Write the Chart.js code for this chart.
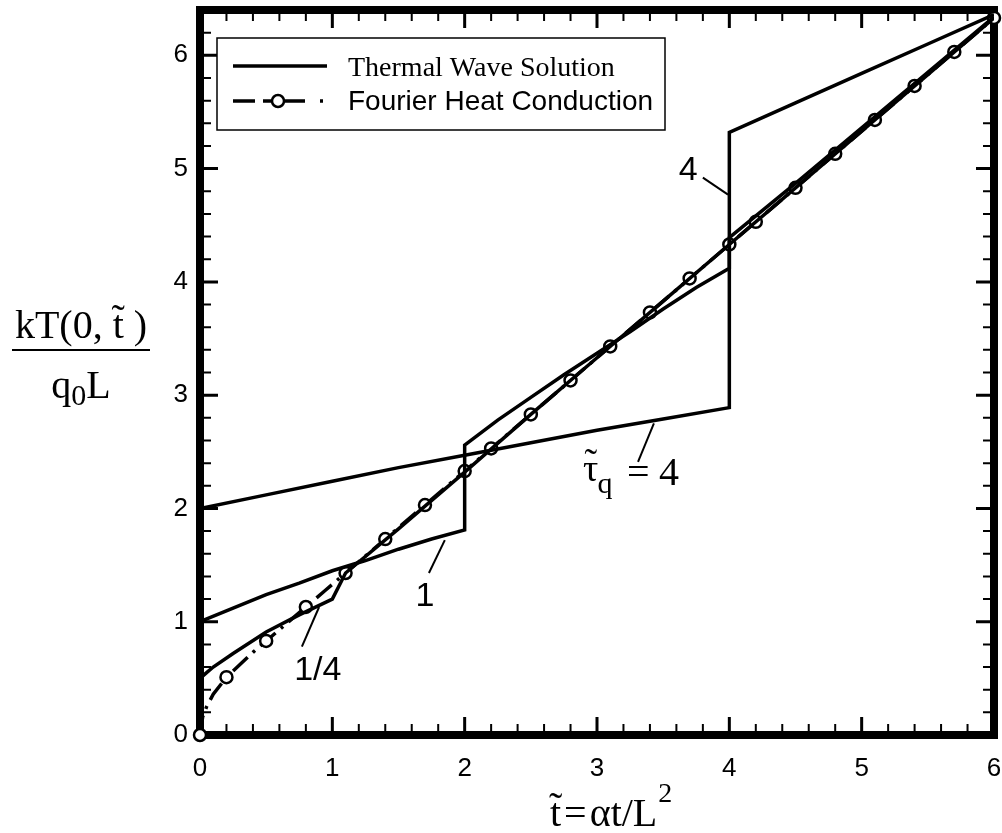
<!DOCTYPE html>
<html>
<head>
<meta charset="utf-8">
<script src="https://cdn.jsdelivr.net/npm/chart.js@4.4.0/dist/chart.umd.min.js"></script>
<style>
  html, body { margin: 0; padding: 0; background: #fff; }
  #wrap { width: 1002px; height: 833px; }
</style>
</head>
<body>
<div id="wrap"><canvas id="surfTempPlot" width="1002" height="833"></canvas></div>
<script>
// thermal wave solutions (tau_q = 4, 1, 1/4), jumps where the reflected wave comes back
const tau4T = [0, 0.5, 1, 1.5, 2, 2.5, 3, 3.5, 4, 4, 4.5, 5, 5.5, 6];
const tau4Y = [2.0, 2.12, 2.24, 2.36, 2.47, 2.58, 2.69, 2.79, 2.89, 5.32, 5.58, 5.84, 6.10, 6.36];

const tau1T = [0, 0.25, 0.5, 0.75, 1, 1.25, 1.5, 1.75, 2, 2, 2.25, 2.5, 2.75, 3, 3.25, 3.5, 3.75, 4, 4, 4.5, 5, 5.5, 6];
const tau1Y = [1.0, 1.12, 1.24, 1.34, 1.45, 1.54, 1.64, 1.73, 1.81, 2.56, 2.78, 2.98, 3.18, 3.37, 3.56, 3.76, 3.95, 4.12, 4.39, 4.87, 5.36, 5.85, 6.34];

const tauQuarterT = [0, 0.05, 0.1, 0.25, 0.5, 0.75, 1, 1.1, 1.5, 2, 2.5, 3, 3.5, 4, 4.5, 5, 5.5, 6];
const tauQuarterY = [0.5, 0.55, 0.6, 0.72, 0.91, 1.06, 1.2, 1.43, 1.82, 2.32, 2.83, 3.33, 3.83, 4.33, 4.83, 5.33, 5.83, 6.33];

// Fourier heat conduction
const fourierT = [0, 0.02, 0.05, 0.1, 0.2, 0.3, 0.4, 0.5, 0.65, 0.8, 0.95, 1.1, 1.4, 1.7, 2.0, 2.2, 2.5, 2.8, 3.1, 3.4, 3.7, 4.0, 4.2, 4.5, 4.8, 5.1, 5.4, 5.7, 6.0];
const fourierY = [0, 0.16, 0.25, 0.36, 0.51, 0.62, 0.73, 0.83, 0.98, 1.13, 1.28, 1.43, 1.73, 2.03, 2.33, 2.53, 2.83, 3.13, 3.43, 3.73, 4.03, 4.33, 4.53, 4.83, 5.13, 5.43, 5.73, 6.03, 6.33];
const fourierMarkT = [0, 0.2, 0.5, 0.8, 1.1, 1.4, 1.7, 2.0, 2.2, 2.5, 2.8, 3.1, 3.4, 3.7, 4.0, 4.2, 4.5, 4.8, 5.1, 5.4, 5.7, 6.0];

// axes
const xMajor = [0, 1, 2, 3, 4, 5, 6];
const yMajor = [0, 1, 2, 3, 4, 5, 6];
const minorStep = 0.2;

// curve labels: text, anchor (t, y), leader line from/to (t, y)
const curveLabels = [
    { text: '1/4', at: [0.89, 0.57], from: [0.90, 1.13], to: [0.77, 0.78] },
    { text: '1', at: [1.70, 1.22], from: [1.85, 1.72], to: [1.73, 1.43] },
    { text: '4', at: [3.69, 4.98], from: [3.80, 4.92], to: [3.99, 4.77] }
];
const tauLabelAt = [2.895, 2.21];
const tauLeader = [[3.43, 2.75], [3.31, 2.41]];

const SERIF = '"Liberation Serif", "Times New Roman", serif';
const SANS = '"Liberation Sans", Arial, sans-serif';
const DASH = [20, 7, 3, 7];

function toXY(ts, ys) {
    return ts.map(function (t, i) { return { x: t, y: ys[i] }; });
}

// draw a char with a small tilde over it, returns advance
function tildeChar(ctx, ch, x, y, size) {
    const w = ctx.measureText(ch).width;
    ctx.fillText(ch, x, y);
    const tw = ctx.measureText('\u02DC').width;
    ctx.fillText('\u02DC', x + (w - tw) / 2, y - size * 0.14);
    return w;
}

function noPad(s) {
    s.paddingLeft = 0; s.paddingRight = 0; s.paddingTop = 0; s.paddingBottom = 0;
}

const boxPlugin = {
    id: 'boxTicks',
    beforeDatasetsDraw(chart) {
        const ctx = chart.ctx;
        const a = chart.chartArea;
        const xs = chart.scales.x, ys = chart.scales.y;
        ctx.save();
        ctx.strokeStyle = '#000';
        ctx.lineCap = 'butt';
        function isMajor(v) { return Math.abs(v - Math.round(v)) < 1e-6; }
        for (let v = 0; v <= 6.0001; v += minorStep) {
            const px = xs.getPixelForValue(v);
            const len = isMajor(v) ? 18 : 11;
            ctx.lineWidth = isMajor(v) ? 3 : 2;
            ctx.beginPath();
            ctx.moveTo(px, a.bottom); ctx.lineTo(px, a.bottom - len);
            ctx.moveTo(px, a.top); ctx.lineTo(px, a.top + len);
            ctx.stroke();
        }
        for (let v = 0; v <= 6.4001; v += minorStep) {
            const py = ys.getPixelForValue(v);
            const len = isMajor(v) ? 18 : 11;
            ctx.lineWidth = isMajor(v) ? 3 : 2;
            ctx.beginPath();
            ctx.moveTo(a.left, py); ctx.lineTo(a.left + len, py);
            ctx.moveTo(a.right, py); ctx.lineTo(a.right - len, py);
            ctx.stroke();
        }
        ctx.lineWidth = 8;
        ctx.lineJoin = 'miter';
        ctx.strokeRect(a.left, a.top, a.right - a.left, a.bottom - a.top);
        ctx.restore();
    },
    afterDraw(chart) {
        const ctx = chart.ctx;
        const xs = chart.scales.x, ys = chart.scales.y;
        ctx.save();
        ctx.fillStyle = '#000';
        ctx.strokeStyle = '#000';

        // curve labels with leader lines
        ctx.font = '34px ' + SANS;
        ctx.textAlign = 'center';
        ctx.textBaseline = 'middle';
        ctx.lineWidth = 2;
        curveLabels.forEach(function (l) {
            ctx.fillText(l.text, xs.getPixelForValue(l.at[0]), ys.getPixelForValue(l.at[1]));
            ctx.beginPath();
            ctx.moveTo(xs.getPixelForValue(l.from[0]), ys.getPixelForValue(l.from[1]));
            ctx.lineTo(xs.getPixelForValue(l.to[0]), ys.getPixelForValue(l.to[1]));
            ctx.stroke();
        });
        ctx.beginPath();
        ctx.moveTo(xs.getPixelForValue(tauLeader[0][0]), ys.getPixelForValue(tauLeader[0][1]));
        ctx.lineTo(xs.getPixelForValue(tauLeader[1][0]), ys.getPixelForValue(tauLeader[1][1]));
        ctx.stroke();

        ctx.textAlign = 'left';
        ctx.textBaseline = 'alphabetic';
        // tau_q = 4
        const tx = xs.getPixelForValue(tauLabelAt[0]);
        const ty = ys.getPixelForValue(tauLabelAt[1]);
        ctx.font = '38px ' + SERIF;
        const wt = tildeChar(ctx, '\u03C4', tx, ty - 4, 38);
        ctx.font = '30px ' + SERIF;
        ctx.fillText('q', tx + wt - 1, ty + 8);
        ctx.font = '40px ' + SERIF;
        ctx.fillText('=', tx + 44, ty);
        ctx.fillText('4', tx + 76, ty);

        // y axis title
        ctx.font = '40px ' + SERIF;
        const pre = 'kT(0, ', post = ' )';
        const wNum = ctx.measureText(pre + 't' + post).width;
        let nx = 81 - wNum / 2;
        ctx.fillText(pre, nx, 338);
        nx += ctx.measureText(pre).width;
        nx += tildeChar(ctx, 't', nx, 338, 40);
        ctx.fillText(post, nx, 338);
        ctx.lineWidth = 2;
        ctx.beginPath();
        ctx.moveTo(12, 350); ctx.lineTo(150, 350);
        ctx.stroke();
        const wq = ctx.measureText('q').width, wL = ctx.measureText('L').width;
        ctx.font = '30px ' + SERIF;
        const w0 = ctx.measureText('0').width;
        const dx = 81 - (wq + w0 + wL) / 2;
        ctx.font = '40px ' + SERIF;
        ctx.fillText('q', dx, 398);
        ctx.font = '30px ' + SERIF;
        ctx.fillText('0', dx + wq, 405);
        ctx.font = '40px ' + SERIF;
        ctx.fillText('L', dx + wq + w0, 398);

        // x axis title
        let ax = 550;
        const ab = 826;
        ctx.font = '40px ' + SERIF;
        ax += tildeChar(ctx, 't', ax, ab, 40);
        ax += 3;
        ctx.fillText('=', ax, ab);
        ax += ctx.measureText('=').width + 3;
        ctx.fillText('\u03B1t/L', ax, ab);
        ax += ctx.measureText('\u03B1t/L').width + 1;
        ctx.font = '28px ' + SERIF;
        ctx.fillText('2', ax, ab - 24);

        // legend
        const lx = 217, lt = 38, lw = 448, lh = 92;
        ctx.fillStyle = '#fff';
        ctx.fillRect(lx, lt, lw, lh);
        ctx.fillStyle = '#000';
        ctx.lineWidth = 1.5;
        ctx.strokeRect(lx, lt, lw, lh);
        ctx.lineWidth = 3.5;
        ctx.beginPath();
        ctx.moveTo(233, 66); ctx.lineTo(327, 66);
        ctx.stroke();
        ctx.setLineDash([22, 8, 42, 15, 3, 10]);
        ctx.beginPath();
        ctx.moveTo(233, 101); ctx.lineTo(327, 101);
        ctx.stroke();
        ctx.setLineDash([]);
        ctx.lineWidth = 2.5;
        ctx.fillStyle = '#fff';
        ctx.beginPath();
        ctx.arc(278, 101, 6, 0, Math.PI * 2);
        ctx.fill();
        ctx.stroke();
        ctx.fillStyle = '#000';
        ctx.font = '28px ' + SERIF;
        ctx.fillText('Thermal Wave Solution', 348, 76);
        ctx.font = '28px ' + SANS;
        ctx.fillText('Fourier Heat Conduction', 348, 110);
        ctx.restore();
    }
};

document.addEventListener('DOMContentLoaded', function () {
    const canvas = document.getElementById('surfTempPlot');
    const solid = { showLine: true, borderColor: '#000', borderWidth: 3.5, pointRadius: 0, tension: 0, fill: false };

    new Chart(canvas.getContext('2d'), {
        type: 'scatter',
        data: {
            datasets: [
                Object.assign({ label: 'tau_q = 4', data: toXY(tau4T, tau4Y) }, solid),
                Object.assign({ label: 'tau_q = 1', data: toXY(tau1T, tau1Y) }, solid),
                Object.assign({ label: 'tau_q = 1/4', data: toXY(tauQuarterT, tauQuarterY) }, solid),
                {
                    label: 'Fourier Heat Conduction',
                    data: toXY(fourierT, fourierY),
                    showLine: true,
                    borderColor: '#000',
                    borderWidth: 3.5,
                    borderDash: DASH,
                    tension: 0,
                    clip: false,
                    pointStyle: 'circle',
                    pointBackgroundColor: '#fff',
                    pointBorderColor: '#000',
                    pointBorderWidth: 2.5,
                    pointRadius: function (c) {
                        return fourierMarkT.indexOf(fourierT[c.dataIndex]) >= 0 ? 6 : 0;
                    }
                }
            ]
        },
        options: {
            responsive: false,
            animation: false,
            layout: { autoPadding: false, padding: { top: 10, right: 8, left: 0, bottom: 0 } },
            plugins: { legend: { display: false }, tooltip: { enabled: false } },
            scales: {
                x: {
                    type: 'linear', min: 0, max: 6,
                    afterFit: function (s) { s.height = 98; noPad(s); },
                    afterBuildTicks: function (s) { s.ticks = xMajor.map(function (v) { return { value: v }; }); },
                    grid: { display: false, drawTicks: false },
                    border: { display: false },
                    ticks: { color: '#000', padding: 18, maxRotation: 0, font: { family: SANS, size: 26 } }
                },
                y: {
                    type: 'linear', min: 0, max: 6.4,
                    afterFit: function (s) { s.width = 200; noPad(s); },
                    afterBuildTicks: function (s) { s.ticks = yMajor.map(function (v) { return { value: v }; }); },
                    grid: { display: false, drawTicks: false },
                    border: { display: false },
                    ticks: { color: '#000', padding: 12, font: { family: SANS, size: 26 } }
                }
            }
        },
        plugins: [boxPlugin]
    });
});
</script>
</body>
</html>
